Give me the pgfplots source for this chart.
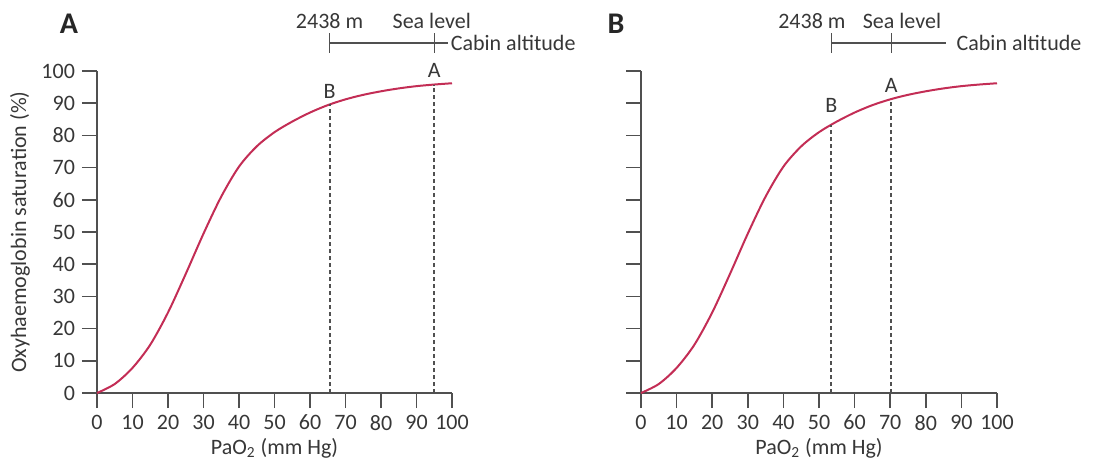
\documentclass[border=0pt]{standalone}
\usepackage{fontspec}
\setmainfont{Carlito}
\usepackage{pgfplots}
\usepackage{pgfplotstable}
\pgfplotsset{compat=1.18}

\definecolor{curve}{RGB}{195,45,85}
\definecolor{txt}{RGB}{55,55,55}
\definecolor{axl}{RGB}{80,80,80}

% oxyhaemoglobin dissociation curve
\pgfplotstableread{
x y
0 0
5 2.8
10 7.8
15 15
20 25
25 37
30 49.5
35 61
40 70.3
45 76.6
50 81
55 84.3
60 87.1
65 89.4
70 91.2
75 92.6
80 93.7
85 94.6
90 95.3
95 95.8
100 96.2
}\odc

\tikzset{lbl/.style={text=txt, font=\fontsize{11}{12}\selectfont}}

\pgfplotsset{
  panel/.style={
    scale only axis, width=177.5pt, height=161pt,
    xmin=0, xmax=100, ymin=0, ymax=100,
    axis x line=bottom, axis y line=left,
    axis line style={-, axl, line width=0.75pt},
    xtick={0,10,...,100}, ytick={0,10,...,100},
    tick align=outside, xtick align=outside, ytick align=outside,
    major tick length=7.5pt,
    tick style={axl, line width=0.75pt},
    tick label style={font=\fontsize{11}{12}\selectfont, text=txt},
    /pgf/number format/assume math mode=true,
    clip=false,
    label style={font=\fontsize{11}{12}\selectfont, text=txt},
    xlabel={PaO\textsubscript{2} (mm Hg)},
    xlabel style={at={(axis description cs:0.5,-0.171)}, anchor=center},
  },
  drop/.style={axl, line width=1pt, dash pattern=on 2pt off 1.5pt, no markers},
  odcline/.style={curve, line width=1pt, smooth, no markers},
}

\begin{document}
\begin{tikzpicture}
\begin{axis}[panel, at={(48.5pt,-196.5pt)}, anchor=south west,
  ylabel={Oxyhaemoglobin saturation (\%)},
  ylabel style={at={(axis description cs:-0.217,0.5)}, anchor=center, rotate=0},
]
\addplot[odcline] table {\odc};
\addplot[drop] coordinates {(65.5,0) (65.5,89.6)};
\addplot[drop] coordinates {(95,0) (95,95.8)};
\node[lbl] at (axis cs:65.5,93.5) {B};
\node[lbl] at (axis cs:95,100.3) {A};
% cabin altitude scale
\draw[axl, line width=0.75pt] (axis cs:65.5,108.7) -- (axis cs:99,108.7);
\draw[axl, line width=0.75pt] (axis cs:65.5,105.6) -- (axis cs:65.5,111.8);
\draw[axl, line width=0.75pt] (axis cs:95,105.6) -- (axis cs:95,111.8);
\node[lbl] at (axis cs:65.5,115.5) {2438 m};
\node[lbl] at (axis cs:94.3,115.5) {Sea level};
\node[lbl, anchor=west, inner sep=1pt] at (axis cs:99,108.7) {Cabin altitude};
\end{axis}

\begin{axis}[panel, at={(320.5pt,-196.5pt)}, anchor=south west, width=178pt,
  yticklabel=\empty,
]
\addplot[odcline] table {\odc};
\addplot[drop] coordinates {(53.5,0) (53.5,83.3)};
\addplot[drop] coordinates {(70.3,0) (70.3,91.3)};
\node[lbl] at (axis cs:53.5,89.4) {B};
\node[lbl] at (axis cs:70.3,95.6) {A};
\draw[axl, line width=0.75pt] (axis cs:53.5,108.7) -- (axis cs:85.6,108.7);
\draw[axl, line width=0.75pt] (axis cs:53.5,105.6) -- (axis cs:53.5,111.8);
\draw[axl, line width=0.75pt] (axis cs:70.3,105.6) -- (axis cs:70.3,111.8);
\node[lbl] at (axis cs:48,115.5) {2438 m};
\node[lbl] at (axis cs:73.3,115.5) {Sea level};
\node[lbl, anchor=west, inner sep=1pt] at (axis cs:88,108.7) {Cabin altitude};
\end{axis}

\node[text=black!85, font=\fontsize{15}{16}\selectfont\bfseries] at (34.5pt,-12pt) {A};
\node[text=black!85, font=\fontsize{15}{16}\selectfont\bfseries] at (308pt,-12pt) {B};

\pgfresetboundingbox
\path[use as bounding box] (0,0) rectangle (547pt,-231.5pt);
\end{tikzpicture}
\end{document}
